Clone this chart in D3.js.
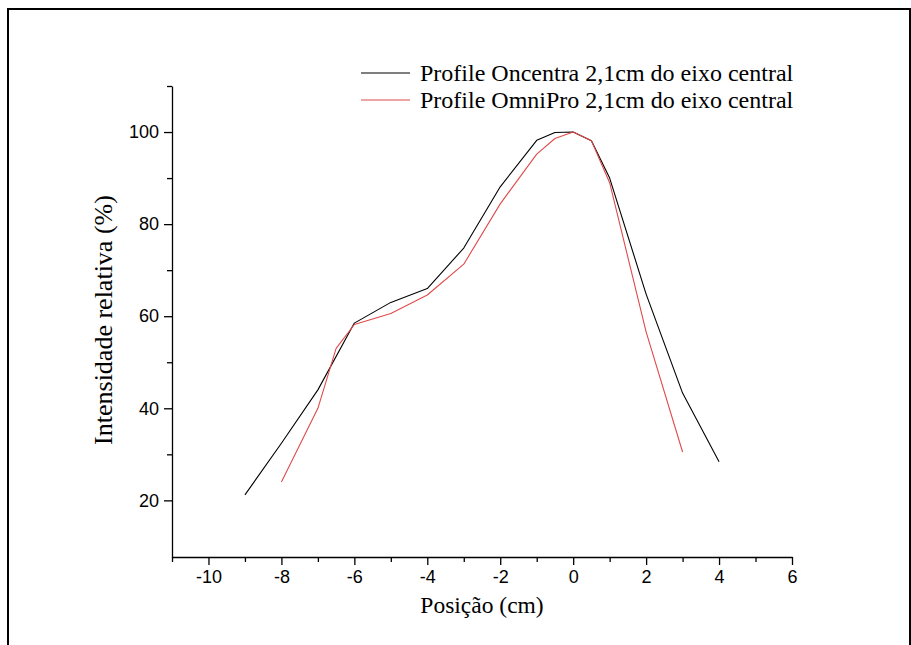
<!DOCTYPE html>
<html>
<head>
<meta charset="utf-8">
<script src="https://cdn.jsdelivr.net/npm/d3@7"></script>
<style>
  html, body { margin: 0; padding: 0; background: #fff; }
  svg { display: block; }
</style>
</head>
<body>
<svg id="chart" width="911" height="645"></svg>
<script>
// Dose profiles 2,1 cm from the central axis
const oncentraX = [-9, -8, -7, -6, -5, -4, -3, -2, -1, -0.5, 0, 0.5, 1, 2, 3, 4];
const oncentraY = [21.2, 32.4, 44, 58.5, 63, 66, 74.8, 88.1, 98.2, 99.9, 100, 98.1, 90, 64.8, 43.3, 28.4];

const omniproX = [-8, -7, -6.5, -6, -5, -4, -3, -2, -1, -0.5, 0, 0.5, 1, 2, 3];
const omniproY = [24, 40, 53, 58.2, 60.6, 64.6, 71.3, 84.4, 95.2, 98.6, 100, 98.1, 89, 56.6, 30.5];

const seriesNames = ["Profile Oncentra 2,1cm do eixo central", "Profile OmniPro 2,1cm do eixo central"];
const seriesColors = ["#000000", "#e04a4a"];

const xMajorTicks = [-10, -8, -6, -4, -2, 0, 2, 4, 6];
const xMinorTicks = [-11, -9, -7, -5, -3, -1, 1, 3, 5];
const yMajorTicks = [20, 40, 60, 80, 100];
const yMinorTicks = [30, 50, 70, 90, 110];

const xTitle = "Posição (cm)";
const yTitle = "Intensidade relativa (%)";

const svg = d3.select("#chart");

// outer frame
svg.append("rect")
  .attr("x", 8).attr("y", 9)
  .attr("width", 902).attr("height", 660)
  .attr("fill", "none").attr("stroke", "#000").attr("stroke-width", 2);

const x = d3.scaleLinear().domain([-11, 6]).range([172, 792]);
const y = d3.scaleLinear().domain([7.7, 110]).range([557, 86]);

const tickFont = "'Liberation Sans', Arial, sans-serif";
const titleFont = "'Liberation Serif', 'Times New Roman', serif";
const plainNumber = d => String(d);

// x axis
const gx = svg.append("g").attr("transform", `translate(0,${y.range()[0]})`);
gx.call(d3.axisBottom(x).tickValues(xMajorTicks).tickSize(8).tickSizeOuter(0).tickFormat(plainNumber));
gx.selectAll(".tick text").attr("font-family", tickFont).attr("font-size", 18).attr("dy", "0.71em").attr("y", 13).attr("fill", "#000");
const gxm = svg.append("g").attr("transform", `translate(0,${y.range()[0]})`);
gxm.call(d3.axisBottom(x).tickValues(xMinorTicks).tickSize(5).tickSizeOuter(0).tickFormat(""));
gxm.select(".domain").remove();

// y axis
const gy = svg.append("g").attr("transform", `translate(${x.range()[0]},0)`);
gy.call(d3.axisLeft(y).tickValues(yMajorTicks).tickSize(8).tickSizeOuter(0).tickFormat(plainNumber));
gy.selectAll(".tick text").attr("font-family", tickFont).attr("font-size", 18).attr("x", -13).attr("fill", "#000");
const gym = svg.append("g").attr("transform", `translate(${x.range()[0]},0)`);
gym.call(d3.axisLeft(y).tickValues(yMinorTicks).tickSize(5).tickSizeOuter(0).tickFormat(""));
gym.select(".domain").remove();

svg.selectAll(".domain, .tick line").attr("stroke", "#000").attr("stroke-width", 1.3);

// axis titles
svg.append("text")
  .attr("x", 482).attr("y", 613)
  .attr("text-anchor", "middle")
  .attr("font-family", titleFont).attr("font-size", 23.5)
  .text(xTitle);

svg.append("text")
  .attr("transform", "translate(112,320) rotate(-90)")
  .attr("text-anchor", "middle")
  .attr("font-family", titleFont).attr("font-size", 26)
  .text(yTitle);

// profile curves
const line = d3.line().x(d => x(d[0])).y(d => y(d[1]));
const series = [
  d3.zip(oncentraX, oncentraY),
  d3.zip(omniproX, omniproY)
];
svg.append("g").selectAll("path")
  .data(series)
  .join("path")
  .attr("d", line)
  .attr("fill", "none")
  .attr("stroke", (d, i) => seriesColors[i])
  .attr("stroke-width", 1.1)
  .attr("stroke-linejoin", "round");

// legend
const legend = svg.append("g").attr("transform", "translate(361,73)");
const items = legend.selectAll("g").data(seriesNames).join("g")
  .attr("transform", (d, i) => `translate(0,${i * 27})`);
items.append("line")
  .attr("x1", 0).attr("x2", 49).attr("y1", 0).attr("y2", 0)
  .attr("stroke", (d, i) => seriesColors[i]).attr("stroke-width", 1.1);
items.append("text")
  .attr("x", 59).attr("y", 0).attr("dy", "0.32em")
  .attr("font-family", titleFont).attr("font-size", 24)
  .text(d => d);
</script>
</body>
</html>
